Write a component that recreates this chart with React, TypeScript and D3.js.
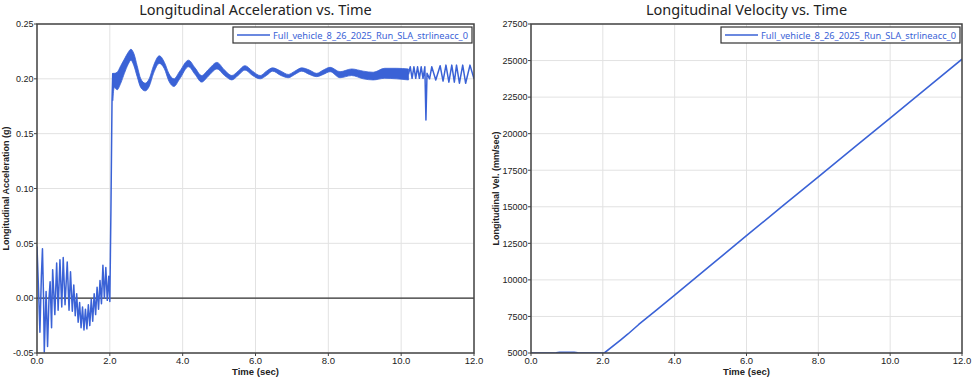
import React from "react";
import * as d3 from "d3";

// ---------- Data ----------
const seriesName = "Full_vehicle_8_26_2025_Run_SLA_strlineacc_0";

// Acceleration, 0 - 2.08 s (noisy start + step)
const accTimeA = [0.0, 0.04, 0.08, 0.12, 0.15, 0.18, 0.2, 0.25, 0.29, 0.33, 0.36, 0.4, 0.43, 0.49, 0.54, 0.58, 0.63, 0.68, 0.72, 0.77, 0.83, 0.88, 0.92, 0.97, 1.01, 1.05, 1.09, 1.13, 1.17, 1.21, 1.25, 1.29, 1.33, 1.37, 1.41, 1.45, 1.49, 1.53, 1.57, 1.61, 1.65, 1.69, 1.73, 1.77, 1.81, 1.85, 1.89, 1.93, 1.97, 2.0, 2.03, 2.06, 2.08];
const accValA = [0.047, 0.01, -0.031, 0.02, 0.045, 0.0, -0.049, 0.006, -0.044, 0.0, 0.015, -0.027, 0.026, -0.015, 0.032, -0.011, 0.035, -0.008, 0.037, -0.006, 0.033, -0.011, 0.024, -0.012, 0.012, -0.016, 0.004, -0.022, -0.004, -0.027, -0.008, -0.029, -0.01, -0.028, -0.006, -0.025, -0.001, -0.021, 0.004, -0.015, 0.01, -0.01, 0.016, -0.005, 0.03, 0.0, 0.028, -0.002, 0.02, -0.003, 0.08, 0.18, 0.205];

// Acceleration, 2.08 - 10.2 s (oscillating band: upper / lower edges)
const accTimeB = [2.08, 2.12, 2.2, 2.3, 2.4, 2.5, 2.58, 2.66, 2.75, 2.85, 2.97, 3.08, 3.2, 3.36, 3.5, 3.62, 3.76, 3.92, 4.16, 4.34, 4.52, 4.72, 4.94, 5.15, 5.35, 5.52, 5.71, 5.92, 6.13, 6.3, 6.47, 6.7, 6.9, 7.08, 7.27, 7.48, 7.68, 7.86, 8.05, 8.32, 8.64, 8.96, 9.23, 9.55, 9.88, 10.2];
const accUpperB = [0.205, 0.205, 0.206, 0.212, 0.218, 0.224, 0.227, 0.223, 0.212, 0.2, 0.196, 0.2, 0.212, 0.221, 0.215, 0.205, 0.2, 0.207, 0.217, 0.21, 0.203, 0.209, 0.215, 0.208, 0.203, 0.207, 0.212, 0.207, 0.203, 0.207, 0.21, 0.207, 0.204, 0.207, 0.21, 0.208, 0.205, 0.208, 0.2105, 0.2065, 0.209, 0.207, 0.206, 0.2096, 0.2096, 0.209];
const accLowerB = [0.18, 0.192, 0.19, 0.196, 0.205, 0.213, 0.217, 0.212, 0.202, 0.192, 0.189, 0.193, 0.205, 0.214, 0.209, 0.198, 0.193, 0.2, 0.211, 0.204, 0.197, 0.203, 0.209, 0.203, 0.199, 0.203, 0.208, 0.203, 0.2, 0.203, 0.207, 0.203, 0.201, 0.204, 0.207, 0.204, 0.202, 0.204, 0.2065, 0.201, 0.203, 0.2, 0.199, 0.2005, 0.2, 0.199];

// Acceleration, 10.2 - 12 s (visible oscillation and spike)
const accTimeC = [10.2, 10.25, 10.3, 10.35, 10.4, 10.45, 10.5, 10.55, 10.6, 10.65, 10.68, 10.71, 10.78, 10.84, 10.95, 11.07, 11.15, 11.23, 11.31, 11.39, 11.46, 11.52, 11.6, 11.69, 11.77, 11.89, 12.0];
const accValC = [0.204, 0.211, 0.2005, 0.211, 0.2005, 0.211, 0.2005, 0.211, 0.2005, 0.211, 0.1625, 0.205, 0.2, 0.211, 0.199, 0.212, 0.198, 0.2125, 0.197, 0.2125, 0.197, 0.2125, 0.196, 0.2125, 0.196, 0.2125, 0.2];

// Velocity
const velTime = [0, 0.7, 0.8, 1.2, 1.3, 2.0, 2.05, 2.5, 2.7, 3.0, 3.5, 4.0, 5.0, 6.0, 7.0, 8.0, 9.0, 10.0, 11.0, 12.0];
const velVal = [5000, 5010, 5050, 5050, 5010, 5000, 5020, 5900, 6300, 6950, 7950, 8950, 10990, 13020, 15040, 17050, 19060, 21070, 23080, 25100];

const xTicks = [0, 2, 4, 6, 8, 10, 12];
const accTicks = [-0.05, 0, 0.05, 0.1, 0.15, 0.2, 0.25];
const velTicks = [5000, 7500, 10000, 12500, 15000, 17500, 20000, 22500, 25000, 27500];

// ---------- Styles ----------
const BLUE = "#3a62d6";
const GRID = "#e2e2e2";
const FRAME = "#444";
const TEXT = "#222";
const tickFont = "'Liberation Sans', Arial, sans-serif";
const titleFont = "'Noto Sans', 'Open Sans', sans-serif";

type PanelProps = {
  x0: number;
  x1: number;
  y0: number;
  y1: number;
  title: string;
  yLabel: string;
  yLabelX: number;
  yDomain: [number, number];
  yTicks: number[];
  yFmt: (v: number) => string;
  id: string;
  children: (xs: d3.ScaleLinear<number, number>, ys: d3.ScaleLinear<number, number>) => React.ReactNode;
  zeroLine?: boolean;
};

function Panel(p: PanelProps) {
  const xs = d3.scaleLinear().domain([0, 12]).range([p.x0, p.x1]);
  const ys = d3.scaleLinear().domain(p.yDomain).range([p.y1, p.y0]);
  const cx = (p.x0 + p.x1) / 2;
  const cy = (p.y0 + p.y1) / 2;
  const legW = 239;
  const legX = p.x1 - 2 - legW;
  const legY = 27;
  return (
    <g>
      <defs>
        <clipPath id={p.id}>
          <rect x={p.x0} y={p.y0} width={p.x1 - p.x0} height={p.y1 - p.y0} />
        </clipPath>
      </defs>
      <text x={cx} y={15} textAnchor="middle" fontFamily={titleFont} fontSize={14.5} fill={TEXT}>
        {p.title}
      </text>
      {/* grid */}
      {xTicks.map((t) => (
        <line key={"gx" + t} x1={xs(t)} x2={xs(t)} y1={p.y0} y2={p.y1} stroke={GRID} strokeWidth={1} />
      ))}
      {p.yTicks.map((t) => (
        <line key={"gy" + t} x1={p.x0} x2={p.x1} y1={ys(t)} y2={ys(t)} stroke={GRID} strokeWidth={1} />
      ))}
      {p.zeroLine && (
        <line x1={p.x0} x2={p.x1} y1={ys(0)} y2={ys(0)} stroke="#333" strokeWidth={1.2} />
      )}
      <g clipPath={`url(#${p.id})`}>{p.children(xs, ys)}</g>
      {/* frame */}
      <rect x={p.x0} y={p.y0} width={p.x1 - p.x0} height={p.y1 - p.y0} fill="none" stroke={FRAME} strokeWidth={1.5} />
      {/* ticks */}
      {xTicks.map((t) => (
        <g key={"tx" + t}>
          <line x1={xs(t)} x2={xs(t)} y1={p.y1} y2={p.y1 + 3} stroke={FRAME} />
          <text x={xs(t)} y={p.y1 + 10.5} textAnchor="middle" fontFamily={tickFont} fontSize={9.5} fill={TEXT}>
            {t.toFixed(1)}
          </text>
        </g>
      ))}
      {p.yTicks.map((t) => (
        <g key={"ty" + t}>
          <line x1={p.x0 - 3} x2={p.x0} y1={ys(t)} y2={ys(t)} stroke={FRAME} />
          <text x={p.x0 - 3.5} y={ys(t) + 3.3} textAnchor="end" fontFamily={tickFont} fontSize={9} fill={TEXT}>
            {p.yFmt(t)}
          </text>
        </g>
      ))}
      <text x={cx} y={374.5} textAnchor="middle" fontFamily={tickFont} fontWeight="bold" fontSize={9.5} fill={TEXT}>
        Time (sec)
      </text>
      <text
        transform={`translate(${p.yLabelX},${cy}) rotate(-90)`}
        textAnchor="middle"
        fontFamily={tickFont}
        fontWeight="bold"
        fontSize={9}
        fill={TEXT}
      >
        {p.yLabel}
      </text>
      {/* legend */}
      <rect x={legX} y={legY} width={legW} height={16} fill="#fff" stroke="#333" strokeWidth={1.2} />
      <line x1={legX + 4} x2={legX + 37} y1={legY + 8} y2={legY + 8} stroke={BLUE} strokeWidth={1.6} />
      <text
        x={legX + 40}
        y={legY + 11.5}
        fontFamily={titleFont}
        fontSize={9.5}
        fill={BLUE}
        textLength={195}
        lengthAdjust="spacingAndGlyphs"
      >
        {seriesName}
      </text>
    </g>
  );
}

export default function App() {
  const lineLin = d3.line<[number, number]>().curve(d3.curveLinear);
  return (
    <svg width={975} height={381} style={{ position: "absolute", left: 0, top: 0, background: "#fff" }}>
      <rect x={0} y={0} width={975} height={381} fill="#fff" />
      <Panel
        id="clipA"
        x0={37}
        x1={474}
        y0={24}
        y1={353}
        title="Longitudinal Acceleration vs. Time"
        yLabel="Longitudinal Acceleration (g)"
        yLabelX={8.5}
        yDomain={[-0.05, 0.25]}
        yTicks={accTicks}
        yFmt={(v) => v.toFixed(2)}
        zeroLine
      >
        {(xs, ys) => {
          const ptsA = accTimeA.map((t, i) => [xs(t), ys(accValA[i])] as [number, number]);
          const area = d3
            .area<number>()
            .x((_, i) => xs(accTimeB[i]))
            .y0((_, i) => ys(accLowerB[i]))
            .y1((_, i) => ys(accUpperB[i]))
            .curve(d3.curveMonotoneX);
          const ptsC = accTimeC.map((t, i) => [xs(t), ys(accValC[i])] as [number, number]);
          return (
            <g>
              <path d={lineLin(ptsA) || ""} fill="none" stroke={BLUE} strokeWidth={1.5} strokeLinejoin="round" />
              <path d={area(accTimeB) || ""} fill={BLUE} stroke={BLUE} strokeWidth={0.8} strokeLinejoin="round" />
              <path d={lineLin(ptsC) || ""} fill="none" stroke={BLUE} strokeWidth={1.5} strokeLinejoin="round" />
            </g>
          );
        }}
      </Panel>
      <Panel
        id="clipB"
        x0={531}
        x1={962}
        y0={24}
        y1={353}
        title="Longitudinal Velocity vs. Time"
        yLabel="Longitudinal Vel. (mm/sec)"
        yLabelX={498.5}
        yDomain={[5000, 27500]}
        yTicks={velTicks}
        yFmt={(v) => String(v)}
      >
        {(xs, ys) => {
          const pts = velTime.map((t, i) => [xs(t), ys(velVal[i])] as [number, number]);
          return <path d={lineLin(pts) || ""} fill="none" stroke={BLUE} strokeWidth={1.6} strokeLinejoin="round" />;
        }}
      </Panel>
    </svg>
  );
}
